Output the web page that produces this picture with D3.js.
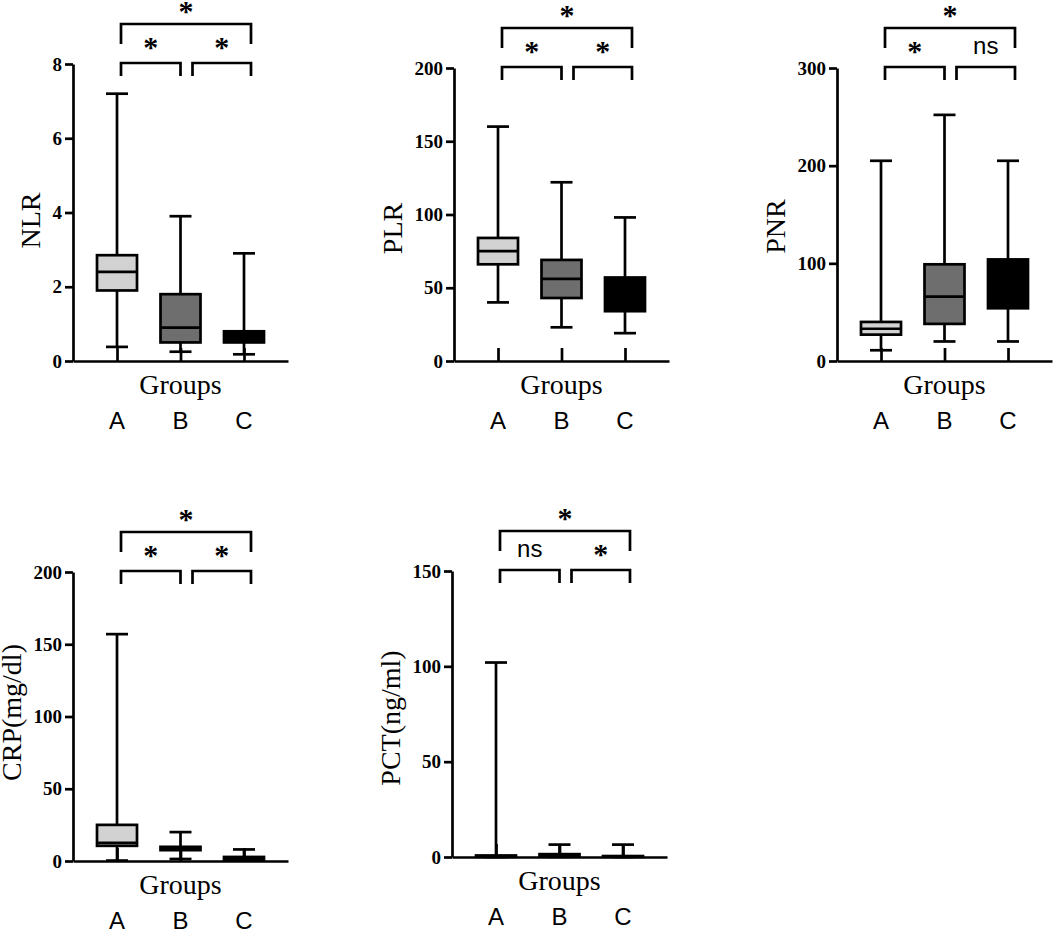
<!DOCTYPE html>
<html>
<head>
<meta charset="utf-8">
<script src="https://cdn.jsdelivr.net/npm/d3@7"></script>
<style>
  body { margin: 0; background: #fff; }
  svg { display: block; }
</style>
</head>
<body>
<svg id="chart"></svg>
<script>
let width = 1055;
let height = 933;

// groups on the x axis
const groups = ["A", "B", "C"];

// box summaries per group: [min, q1, median, q3, max]
const nlrStats = [[0.38, 1.9, 2.4, 2.85, 7.2], [0.25, 0.5, 0.9, 1.8, 3.9], [0.18, 0.5, 0.6, 0.8, 2.9]];
const plrStats = [[40, 66, 75, 84, 160], [23, 43, 56, 69, 122], [19, 34, 45, 57, 98]];
const pnrStats = [[11, 27, 33, 40, 205], [20, 38, 66, 99, 252], [20, 54, 80, 104, 205]];
const crpStats = [[0.3, 10.5, 12.5, 25, 157], [1.4, 7.5, 8.5, 9.8, 20], [0.3, 0.8, 1.5, 2.8, 8]];
const pctStats = [[0.05, 0.1, 0.3, 0.8, 102], [0.1, 0.3, 0.8, 1.5, 6.5], [0.05, 0.1, 0.2, 0.5, 6.5]];

// y tick labels
const nlrTicks = [0, 2, 4, 6, 8];
const plrTicks = [0, 50, 100, 150, 200];
const pnrTicks = [0, 100, 200, 300];
const crpTicks = [0, 50, 100, 150, 200];
const pctTicks = [0, 50, 100, 150];

// significance marks: [A vs B, B vs C, A vs C]
const nlrSig = ["*", "*", "*"];
const plrSig = ["*", "*", "*"];
const pnrSig = ["*", "ns", "*"];
const crpSig = ["*", "*", "*"];
const pctSig = ["ns", "*", "*"];

// y axis titles
const yTitles = ["NLR", "PLR", "PNR", "CRP(mg/dl)", "PCT(ng/ml)"];

// where each little chart sits on the page
let panels = [
    { stats: nlrStats, ticks: nlrTicks, sig: nlrSig, title: yTitles[0], x0: 73, yTop: 64, yBot: 361, dy: 8 },
    { stats: plrStats, ticks: plrTicks, sig: plrSig, title: yTitles[1], x0: 454, yTop: 68, yBot: 361, dy: 14 },
    { stats: pnrStats, ticks: pnrTicks, sig: pnrSig, title: yTitles[2], x0: 837, yTop: 68, yBot: 361, dy: 12 },
    { stats: crpStats, ticks: crpTicks, sig: crpSig, title: yTitles[3], x0: 73, yTop: 572, yBot: 861, dy: -4 },
    { stats: pctStats, ticks: pctTicks, sig: pctSig, title: yTitles[4], x0: 452, yTop: 571, yBot: 857, dy: 4 }
];

let fills = ["#d2d2d2", "#6e6e6e", "#000000"];
let serif = "'Liberation Serif', 'Times New Roman', serif";
let sans = "'Liberation Sans', Arial, sans-serif";
let lw = 2.7;

let svg = d3.select("#chart")
    .attr("width", width)
    .attr("height", height)
    .attr("viewBox", `0 0 ${width} ${height}`);

svg.append("rect").attr("width", width).attr("height", height).attr("fill", "#fff");

panels.forEach(function (p) {
    let g = svg.append("g");

    let x = d3.scalePoint()
        .domain(groups)
        .range([p.x0, p.x0 + 215])
        .padding(0.693);

    let y = d3.scaleLinear()
        .domain([0, d3.max(p.ticks)])
        .range([p.yBot, p.yTop]);

    // x axis, ticks pointing up into the plot
    let xAxis = g.append("g")
        .attr("transform", `translate(0,${p.yBot})`)
        .call(d3.axisBottom(x).tickSizeInner(-13).tickSizeOuter(0).tickFormat(""));
    xAxis.selectAll("path, line").attr("stroke", "#000").attr("stroke-width", lw);

    // y axis
    let yAxis = g.append("g")
        .attr("transform", `translate(${p.x0},0)`)
        .call(d3.axisLeft(y).tickValues(p.ticks).tickSize(8).tickSizeOuter(0).tickPadding(3));
    yAxis.selectAll("path, line").attr("stroke", "#000").attr("stroke-width", lw);
    yAxis.selectAll("text")
        .attr("fill", "#000")
        .style("font-family", serif)
        .style("font-weight", "bold")
        .style("font-size", "19px");

    // y title, placed left of the tick labels
    let bb = yAxis.node().getBBox();
    let tx = p.x0 + bb.x - 13;
    let ty = (p.yTop + p.yBot) / 2 + p.dy;
    g.append("text")
        .attr("transform", `translate(${tx},${ty}) rotate(-90)`)
        .attr("text-anchor", "middle")
        .style("font-family", serif)
        .style("font-size", "28px")
        .text(p.title);

    // x titles
    g.append("text")
        .attr("x", x("B"))
        .attr("y", p.yBot + 33)
        .attr("text-anchor", "middle")
        .style("font-family", serif)
        .style("font-size", "28px")
        .text("Groups");

    g.selectAll(".glabel")
        .data(groups)
        .join("text")
        .attr("x", d => x(d))
        .attr("y", p.yBot + 68)
        .attr("text-anchor", "middle")
        .style("font-family", sans)
        .style("font-size", "24px")
        .text(d => d);

    // boxes
    let boxes = g.selectAll(".box")
        .data(p.stats)
        .join("g")
        .attr("class", "box");

    boxes.append("line")
        .attr("x1", (d, i) => x(groups[i]))
        .attr("x2", (d, i) => x(groups[i]))
        .attr("y1", d => y(d[0]))
        .attr("y2", d => y(d[4]))
        .attr("stroke", "#000")
        .attr("stroke-width", lw);

    [0, 4].forEach(function (k) {
        boxes.append("line")
            .attr("x1", (d, i) => x(groups[i]) - 11)
            .attr("x2", (d, i) => x(groups[i]) + 11)
            .attr("y1", d => y(d[k]))
            .attr("y2", d => y(d[k]))
            .attr("stroke", "#000")
            .attr("stroke-width", lw);
    });

    boxes.append("rect")
        .attr("x", (d, i) => x(groups[i]) - 20)
        .attr("width", 40)
        .attr("y", d => y(d[3]))
        .attr("height", d => y(d[1]) - y(d[3]))
        .attr("fill", (d, i) => fills[i])
        .attr("stroke", "#000")
        .attr("stroke-width", lw);

    boxes.append("line")
        .attr("x1", (d, i) => x(groups[i]) - 20)
        .attr("x2", (d, i) => x(groups[i]) + 20)
        .attr("y1", d => y(d[2]))
        .attr("y2", d => y(d[2]))
        .attr("stroke", "#000")
        .attr("stroke-width", lw);

    // significance brackets
    let brackets = [
        { x1: x("A") + 4, x2: x("B"), yy: p.yTop - 1, leg: 13, mark: p.sig[0], up: 6.5 },
        { x1: x("B") + 12, x2: x("C") + 7, yy: p.yTop - 1, leg: 13, mark: p.sig[1], up: 6.5 },
        { x1: x("A") + 4, x2: x("C") + 7, yy: p.yTop - 40, leg: 20, mark: p.sig[2], up: 3 }
    ];

    brackets.forEach(function (b) {
        g.append("path")
            .attr("d", `M${b.x1},${b.yy + b.leg}V${b.yy}H${b.x2}V${b.yy + b.leg}`)
            .attr("fill", "none")
            .attr("stroke", "#000")
            .attr("stroke-width", lw);

        if (b.mark == "ns") {
            g.append("text")
                .attr("x", (b.x1 + b.x2) / 2)
                .attr("y", b.yy - 13)
                .attr("text-anchor", "middle")
                .style("font-family", sans)
                .style("font-size", "24px")
                .text("ns");
        } else {
            g.append("text")
                .attr("x", (b.x1 + b.x2) / 2)
                .attr("y", b.yy - b.up)
                .attr("text-anchor", "middle")
                .style("font-family", serif)
                .style("font-weight", "bold")
                .style("font-size", "30px")
                .text(b.mark);
        }
    });
});
</script>
</body>
</html>
